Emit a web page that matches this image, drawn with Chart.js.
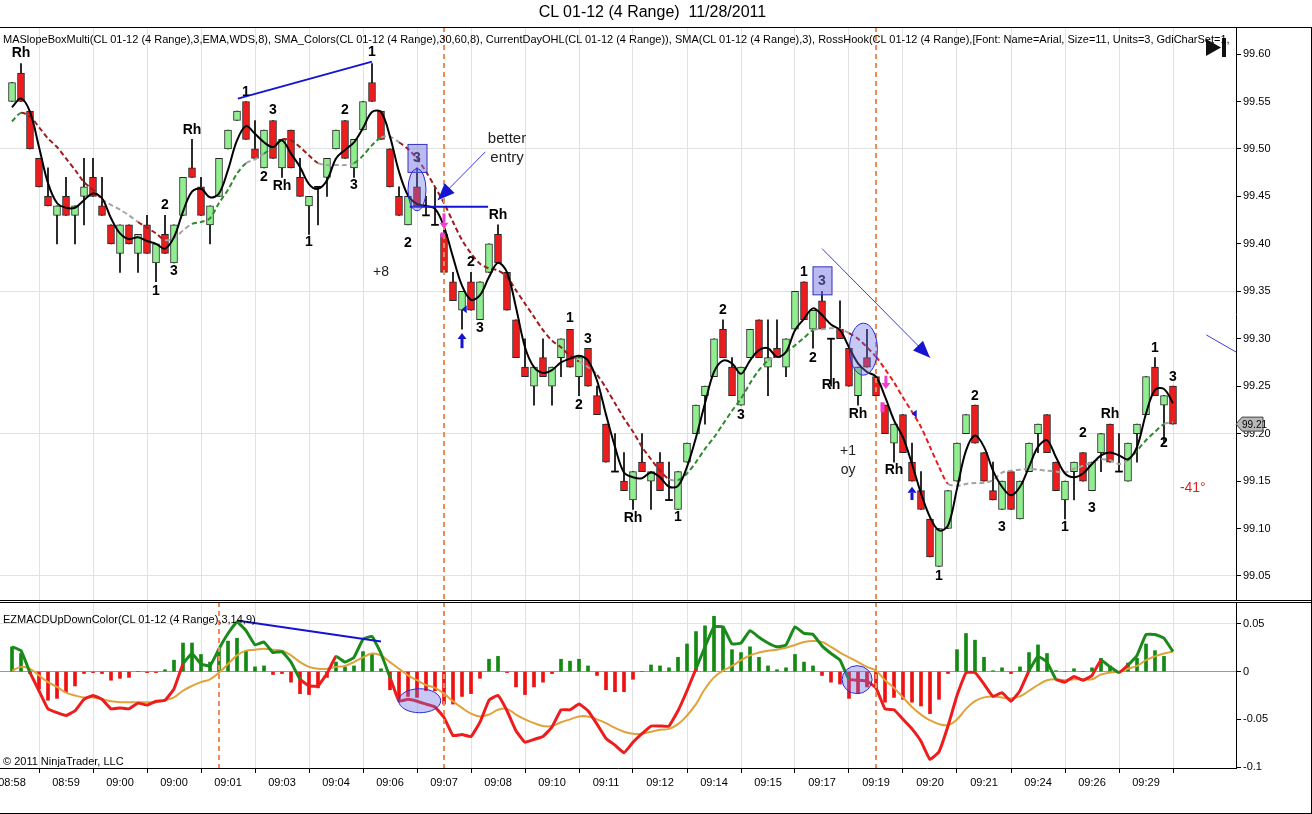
<!DOCTYPE html>
<html>
<head>
<meta charset="utf-8">
<script src="https://cdn.jsdelivr.net/npm/chart.js@4.4.1/dist/chart.umd.min.js"></script>
<style>
  body { margin: 0; background: #fff; font-family: "Liberation Sans", Arial, sans-serif; }
  #wrap { position: relative; width: 1312px; height: 814px; overflow: hidden; background: #fff; }
  #priceBox { position: absolute; left: 0; top: 0; width: 1312px; height: 601px; }
  #macdBox { position: absolute; left: 0; top: 601px; width: 1312px; height: 213px; }
  .txt { position: absolute; white-space: pre; color: #000; }
  #title { left: 0; top: 3px; width: 1305px; text-align: center; font-size: 16px; }
  #ind { left: 3px; top: 33px; width: 1230px; overflow: hidden; font-size: 11px; }
  #macdLbl { left: 3px; top: 613px; font-size: 11px; }
  #copy { left: 3px; top: 755px; font-size: 11px; }
  .hl { position: absolute; left: 0; width: 1312px; height: 1px; background: #000; }
  .vl { position: absolute; width: 1px; background: #000; }
</style>
</head>
<body>
<div id="wrap">
  <div id="priceBox"><canvas id="priceChart"></canvas></div>
  <div id="macdBox"><canvas id="macdChart"></canvas></div>
  <div class="hl" style="top:27px"></div>
  <div class="hl" style="top:600px"></div>
  <div class="hl" style="top:602px"></div>
  <div class="hl" style="top:813px"></div>
  <div class="vl" style="left:1311px;top:27px;height:787px"></div>
  <div class="txt" id="title">CL 01-12 (4 Range)  11/28/2011</div>
  <div class="txt" id="ind">MASlopeBoxMulti(CL 01-12 (4 Range),3,EMA,WDS,8), SMA_Colors(CL 01-12 (4 Range),30,60,8), CurrentDayOHL(CL 01-12 (4 Range)), SMA(CL 01-12 (4 Range),3), RossHook(CL 01-12 (4 Range),[Font: Name=Arial, Size=11, Units=3, GdiCharSet=1,</div>
  <div class="txt" id="macdLbl">EZMACDUpDownColor(CL 01-12 (4 Range),3,14,9)</div>
  <div class="txt" id="copy">© 2011 NinjaTrader, LLC</div>
</div>
<script>
// x axis time labels, one every 6 range bars
const timeLabels = ['08:58', '08:59', '09:00', '09:00', '09:01', '09:03', '09:04', '09:06', '09:07', '09:08', '09:10',
  '09:11', '09:12', '09:14', '09:15', '09:17', '09:19', '09:20', '09:21', '09:24', '09:26', '09:29'];
const labelEvery = 6;

const opens = [
  99.55, 99.58, 99.54, 99.49, 99.45, 99.43, 99.45, 99.43, 99.45, 99.47,
  99.44, 99.42, 99.39, 99.42, 99.39, 99.42, 99.38, 99.41, 99.38, 99.43,
  99.48, 99.46, 99.42, 99.45, 99.50, 99.53, 99.55, 99.50, 99.48, 99.53,
  99.48, 99.52, 99.47, 99.44, 99.46, 99.47, 99.50, 99.53, 99.48, 99.52,
  99.57, 99.54, 99.50, 99.45, 99.42, 99.46, 99.43, 99.42, 99.41, 99.36,
  99.33, 99.36, 99.32, 99.37, 99.41, 99.37, 99.32, 99.27, 99.25, 99.28,
  99.25, 99.28, 99.31, 99.26, 99.29, 99.24, 99.21, 99.16, 99.15, 99.13,
  99.17, 99.15, 99.17, 99.13, 99.12, 99.17, 99.20, 99.24, 99.26, 99.31,
  99.27, 99.23, 99.28, 99.32, 99.27, 99.29, 99.27, 99.31, 99.36, 99.31,
  99.34, 99.30, 99.31, 99.29, 99.24, 99.28, 99.26, 99.23, 99.19, 99.22,
  99.17, 99.14, 99.11, 99.06, 99.10, 99.15, 99.20, 99.23, 99.18, 99.14,
  99.12, 99.16, 99.11, 99.16, 99.20, 99.22, 99.17, 99.13, 99.16, 99.18,
  99.14, 99.18, 99.21, 99.16, 99.15, 99.20, 99.22, 99.27, 99.23, 99.25
];
const highs = [
  99.57, 99.59, 99.54, 99.49, 99.48, 99.44, 99.47, 99.44, 99.49, 99.49,
  99.47, 99.42, 99.42, 99.42, 99.41, 99.43, 99.40, 99.43, 99.42, 99.47,
  99.51, 99.47, 99.44, 99.49, 99.52, 99.54, 99.55, 99.53, 99.52, 99.53,
  99.51, 99.52, 99.49, 99.45, 99.46, 99.49, 99.52, 99.53, 99.51, 99.55,
  99.59, 99.54, 99.50, 99.46, 99.45, 99.48, 99.45, 99.46, 99.42, 99.37,
  99.35, 99.37, 99.36, 99.40, 99.42, 99.37, 99.32, 99.30, 99.27, 99.30,
  99.27, 99.30, 99.31, 99.28, 99.29, 99.25, 99.21, 99.20, 99.18, 99.16,
  99.20, 99.16, 99.18, 99.17, 99.16, 99.19, 99.23, 99.25, 99.30, 99.32,
  99.28, 99.27, 99.31, 99.32, 99.32, 99.32, 99.30, 99.35, 99.36, 99.33,
  99.35, 99.30, 99.34, 99.29, 99.27, 99.31, 99.26, 99.23, 99.21, 99.22,
  99.19, 99.16, 99.11, 99.10, 99.14, 99.19, 99.22, 99.23, 99.18, 99.17,
  99.15, 99.16, 99.15, 99.19, 99.21, 99.22, 99.17, 99.15, 99.17, 99.18,
  99.17, 99.20, 99.21, 99.20, 99.19, 99.21, 99.26, 99.28, 99.24, 99.25
];
const lows = [
  99.55, 99.55, 99.50, 99.46, 99.44, 99.40, 99.43, 99.40, 99.42, 99.45,
  99.43, 99.40, 99.37, 99.40, 99.37, 99.39, 99.36, 99.39, 99.38, 99.43,
  99.47, 99.43, 99.40, 99.45, 99.50, 99.53, 99.51, 99.49, 99.48, 99.49,
  99.47, 99.48, 99.45, 99.41, 99.42, 99.45, 99.50, 99.49, 99.47, 99.52,
  99.55, 99.51, 99.46, 99.43, 99.42, 99.44, 99.43, 99.42, 99.37, 99.34,
  99.31, 99.33, 99.32, 99.37, 99.38, 99.33, 99.28, 99.26, 99.23, 99.26,
  99.23, 99.26, 99.27, 99.24, 99.25, 99.22, 99.17, 99.16, 99.14, 99.12,
  99.16, 99.12, 99.14, 99.13, 99.12, 99.17, 99.20, 99.21, 99.26, 99.28,
  99.24, 99.23, 99.28, 99.28, 99.24, 99.28, 99.26, 99.31, 99.32, 99.29,
  99.31, 99.25, 99.30, 99.25, 99.23, 99.27, 99.24, 99.20, 99.17, 99.18,
  99.15, 99.12, 99.07, 99.06, 99.10, 99.15, 99.20, 99.19, 99.15, 99.13,
  99.12, 99.12, 99.11, 99.16, 99.18, 99.18, 99.14, 99.11, 99.13, 99.15,
  99.14, 99.16, 99.17, 99.16, 99.15, 99.17, 99.22, 99.24, 99.19, 99.21
];
const closes = [
  99.57, 99.55, 99.50, 99.46, 99.44, 99.44, 99.43, 99.44, 99.46, 99.45,
  99.43, 99.40, 99.42, 99.40, 99.41, 99.39, 99.40, 99.39, 99.42, 99.47,
  99.47, 99.43, 99.44, 99.49, 99.52, 99.54, 99.51, 99.49, 99.52, 99.49,
  99.51, 99.48, 99.45, 99.45, 99.46, 99.49, 99.52, 99.49, 99.51, 99.55,
  99.55, 99.51, 99.46, 99.43, 99.45, 99.44, 99.43, 99.42, 99.37, 99.34,
  99.35, 99.33, 99.36, 99.40, 99.38, 99.33, 99.28, 99.26, 99.27, 99.26,
  99.27, 99.30, 99.27, 99.28, 99.25, 99.22, 99.17, 99.16, 99.14, 99.16,
  99.16, 99.16, 99.14, 99.13, 99.16, 99.19, 99.23, 99.25, 99.30, 99.28,
  99.24, 99.27, 99.31, 99.28, 99.28, 99.28, 99.30, 99.35, 99.32, 99.33,
  99.31, 99.30, 99.30, 99.25, 99.27, 99.27, 99.24, 99.20, 99.21, 99.18,
  99.15, 99.12, 99.07, 99.10, 99.14, 99.19, 99.22, 99.19, 99.15, 99.13,
  99.15, 99.12, 99.15, 99.19, 99.21, 99.18, 99.14, 99.15, 99.17, 99.15,
  99.17, 99.20, 99.17, 99.16, 99.19, 99.21, 99.26, 99.24, 99.24, 99.21
];

// SMA(3), black solid line
const smaFast = [
  99.544, 99.553, 99.539, 99.502, 99.464, 99.443, 99.438, 99.438, 99.446, 99.453,
  99.448, 99.427, 99.411, 99.405, 99.407, 99.403, 99.400, 99.395, 99.407, 99.434,
  99.455, 99.458, 99.449, 99.453, 99.478, 99.509, 99.524, 99.516, 99.507, 99.502,
  99.509, 99.495, 99.481, 99.463, 99.458, 99.467, 99.490, 99.499, 99.507, 99.522,
  99.539, 99.539, 99.513, 99.476, 99.451, 99.442, 99.440, 99.437, 99.418, 99.386,
  99.356, 99.341, 99.346, 99.365, 99.380, 99.370, 99.333, 99.291, 99.270, 99.264,
  99.267, 99.275, 99.279, 99.282, 99.277, 99.256, 99.220, 99.186, 99.159, 99.154,
  99.153, 99.159, 99.154, 99.144, 99.145, 99.165, 99.196, 99.232, 99.265, 99.277,
  99.274, 99.263, 99.277, 99.288, 99.290, 99.281, 99.286, 99.309, 99.321, 99.332,
  99.325, 99.315, 99.309, 99.291, 99.274, 99.265, 99.260, 99.239, 99.214, 99.196,
  99.168, 99.137, 99.112, 99.098, 99.103, 99.142, 99.182, 99.198, 99.186, 99.161,
  99.144, 99.135, 99.144, 99.165, 99.186, 99.193, 99.175, 99.158, 99.154, 99.158,
  99.168, 99.177, 99.180, 99.177, 99.173, 99.186, 99.221, 99.246, 99.247, 99.232
];

// SMA_Colors, dashed line
const smaSlow = [
  99.529, 99.538, 99.534, 99.523, 99.511, 99.502, 99.490, 99.478, 99.465, 99.457,
  99.447, 99.441, 99.436, 99.430, 99.423, 99.417, 99.411, 99.404, 99.406, 99.414,
  99.421, 99.423, 99.427, 99.443, 99.457, 99.474, 99.485, 99.489, 99.495, 99.502,
  99.510, 99.509, 99.502, 99.493, 99.485, 99.483, 99.483, 99.483, 99.485, 99.493,
  99.504, 99.512, 99.513, 99.507, 99.500, 99.490, 99.476, 99.460, 99.443, 99.423,
  99.404, 99.390, 99.379, 99.374, 99.372, 99.365, 99.351, 99.337, 99.323, 99.309,
  99.298, 99.291, 99.282, 99.276, 99.270, 99.262, 99.248, 99.232, 99.216, 99.202,
  99.186, 99.173, 99.161, 99.152, 99.151, 99.158, 99.170, 99.184, 99.196, 99.210,
  99.224, 99.237, 99.253, 99.267, 99.277, 99.281, 99.286, 99.293, 99.301, 99.309,
  99.310, 99.311, 99.310, 99.306, 99.300, 99.291, 99.281, 99.268, 99.254, 99.238,
  99.223, 99.207, 99.186, 99.165, 99.147, 99.145, 99.147, 99.148, 99.148, 99.151,
  99.159, 99.161, 99.162, 99.163, 99.162, 99.161, 99.160, 99.159, 99.163, 99.166,
  99.170, 99.173, 99.172, 99.168, 99.172, 99.182, 99.193, 99.202, 99.210, 99.212
];
// colour of each dashed segment: u rising, d falling, D falling fast, f flat
const slowTrend = ['u', 'ddddddddd', 'ffff', 'ddd', 'fff', 'uuuuuu', 'ff', 'uu', 'dddd', 'ffff', 'uuu', 'ff',
  'dddddddddddddddddddd', 'ff', 'dddddddd', 'f', 'uuuuuuuuuu', 'ff', 'uuu', 'ffff', 'ddd', 'DDDDDDDD',
  'ffffffffffffffffffff', 'uuuu', 'f'].join('');

const macd = [
  0.026, 0.022, -0.001, -0.020, -0.039, -0.043, -0.046, -0.041, -0.029, -0.025,
  -0.029, -0.039, -0.038, -0.039, -0.033, -0.035, -0.031, -0.030, -0.018, 0.008,
  0.019, 0.008, 0.006, 0.024, 0.040, 0.052, 0.043, 0.028, 0.031, 0.020,
  0.021, 0.010, -0.008, -0.015, -0.015, -0.002, 0.016, 0.010, 0.015, 0.034,
  0.037, 0.019, -0.006, -0.031, -0.029, -0.031, -0.034, -0.037, -0.048, -0.067,
  -0.066, -0.068, -0.053, -0.030, -0.025, -0.041, -0.062, -0.074, -0.071, -0.068,
  -0.058, -0.040, -0.040, -0.034, -0.041, -0.055, -0.070, -0.077, -0.085, -0.074,
  -0.065, -0.057, -0.057, -0.057, -0.041, -0.020, 0.003, 0.026, 0.047, 0.047,
  0.029, 0.030, 0.043, 0.036, 0.030, 0.026, 0.028, 0.047, 0.040, 0.039,
  0.027, 0.019, 0.012, -0.008, -0.009, -0.010, -0.017, -0.039, -0.040, -0.050,
  -0.060, -0.073, -0.092, -0.084, -0.057, -0.025, -0.001, -0.001, -0.013, -0.026,
  -0.022, -0.031, -0.020, 0.001, 0.016, 0.010, -0.008, -0.011, -0.005, -0.009,
  -0.004, 0.012, 0.005, -0.001, 0.007, 0.017, 0.039, 0.039, 0.035, 0.021
];
const signal = [
  0.001, 0.005, 0.003, -0.004, -0.011, -0.016, -0.022, -0.025, -0.027, -0.027,
  -0.029, -0.031, -0.032, -0.032, -0.032, -0.032, -0.032, -0.030, -0.027, -0.020,
  -0.015, -0.011, -0.008, -0.001, 0.008, 0.017, 0.022, 0.023, 0.024, 0.023,
  0.022, 0.017, 0.010, 0.005, 0.003, 0.003, 0.005, 0.006, 0.010, 0.015,
  0.019, 0.017, 0.010, 0.003, -0.004, -0.009, -0.014, -0.017, -0.023, -0.031,
  -0.038, -0.044, -0.047, -0.045, -0.040, -0.039, -0.045, -0.050, -0.054, -0.057,
  -0.057, -0.053, -0.050, -0.047, -0.047, -0.050, -0.054, -0.059, -0.063, -0.065,
  -0.065, -0.063, -0.061, -0.060, -0.055, -0.046, -0.034, -0.018, -0.006, 0.001,
  0.006, 0.012, 0.017, 0.020, 0.022, 0.023, 0.025, 0.028, 0.031, 0.032,
  0.031, 0.026, 0.020, 0.015, 0.010, 0.005, 0.001, -0.009, -0.017, -0.027,
  -0.037, -0.045, -0.051, -0.055, -0.056, -0.050, -0.039, -0.031, -0.027, -0.026,
  -0.027, -0.028, -0.026, -0.020, -0.014, -0.009, -0.008, -0.009, -0.008, -0.008,
  -0.008, -0.003, -0.001, 0.000, 0.003, 0.006, 0.012, 0.016, 0.019, 0.021
];
const histogram = [
  0.026, 0.019, -0.002, -0.018, -0.030, -0.028, -0.022, -0.015, -0.002, -0.001,
  -0.002, -0.009, -0.007, -0.006, 0.000, -0.001, -0.001, 0.002, 0.012, 0.030,
  0.030, 0.018, 0.010, 0.023, 0.032, 0.035, 0.022, 0.005, 0.006, -0.003,
  -0.002, -0.011, -0.023, -0.024, -0.017, -0.006, 0.010, 0.005, 0.006, 0.021,
  0.019, 0.003, -0.019, -0.029, -0.026, -0.027, -0.020, -0.020, -0.034, -0.034,
  -0.026, -0.023, -0.007, 0.013, 0.016, -0.001, -0.016, -0.024, -0.016, -0.011,
  -0.002, 0.013, 0.011, 0.013, 0.006, -0.004, -0.019, -0.021, -0.021, -0.008,
  0.000, 0.007, 0.006, 0.004, 0.015, 0.029, 0.042, 0.048, 0.058, 0.047,
  0.023, 0.020, 0.026, 0.015, 0.006, 0.002, 0.004, 0.018, 0.010, 0.006,
  -0.004, -0.011, -0.013, -0.028, -0.023, -0.016, -0.017, -0.032, -0.027, -0.029,
  -0.032, -0.036, -0.044, -0.029, -0.002, 0.023, 0.040, 0.033, 0.015, 0.001,
  0.004, -0.002, 0.005, 0.020, 0.028, 0.019, 0.001, 0.000, 0.003, 0.000,
  0.004, 0.014, 0.006, 0.000, 0.009, 0.014, 0.029, 0.022, 0.016, null
];

// RossHook swing labels
const markBars = [1, 16, 17, 18, 20, 26, 28, 29, 30, 33, 37, 38, 40, 44, 51, 52, 54, 62, 63, 64,
  69, 74, 79, 81, 88, 89, 91, 94, 98, 103, 107, 110, 117, 119, 120, 122, 127, 128, 129];
const markPrices = [99.601, 99.350, 99.441, 99.371, 99.520, 99.560, 99.470, 99.541, 99.461, 99.402,
  99.541, 99.462, 99.602, 99.401, 99.381, 99.311, 99.430, 99.322, 99.230, 99.300,
  99.111, 99.112, 99.330, 99.219, 99.370, 99.280, 99.251, 99.221, 99.161, 99.050,
  99.240, 99.101, 99.101, 99.200, 99.121, 99.221, 99.290, 99.190, 99.260];
const markTexts = ['Rh', '1', '2', '3', 'Rh', '1', '2', '3', 'Rh', '1', '2', '3', '1', '2', '2', '3', 'Rh', '1', '2', '3',
  'Rh', '1', '2', '3', '1', '2', 'Rh', 'Rh', 'Rh', '1', '2', '3', '1', '2', '3', 'Rh', '1', '2', '3'];
const boxBars = [45, 90];
const boxPrices = [99.490, 99.361];

// hand-drawn notes
const noteBars = [55, 55, 41, 92.9, 92.9, 131.2];
const notePrices = [99.511, 99.491, 99.370, 99.182, 99.161, 99.143];
const noteTexts = ['better', 'entry', '+8', '+1', 'oy', '-41°'];

const mainSessionBars = [48, 96];
const macdSessionBars = [23, 48, 96];

const COLORS = {
  up: '#90ee90',
  down: '#ee1c1c',
  wick: '#000',
  grid: '#e2e2e2',
  blue: '#1414d2',
  pink: '#f03cd0',
  session: '#f08a5a',
  macdUp: '#1a8a1a',
  macdDown: '#ee1c1c',
  signal: '#dfa33a',
  trend: { u: '#2e8b2e', d: '#a01c1c', D: '#e81c1c', f: '#a3a3a3' }
};

Chart.defaults.font.family = '"Liberation Sans", Arial, sans-serif';
Chart.defaults.color = '#000';

const bars = closes.map((_, i) => i);
const xMin = -12 / 9;
const xMax = 136;

function candleColor(i) {
  if (closes[i] > opens[i]) return COLORS.up;
  if (closes[i] < opens[i]) return COLORS.down;
  return '#000';
}

function timeTicks(scale) {
  scale.ticks = timeLabels.map((_, k) => ({ value: k * labelEvery }));
}

function fixedWidth(scale) {
  scale.width = 76;
  scale.paddingTop = 0;
  scale.paddingBottom = 0;
}

function ellipse(ctx, cx, cy, rx, ry) {
  ctx.beginPath();
  ctx.ellipse(cx, cy, rx, ry, 0, 0, Math.PI * 2);
  ctx.fillStyle = 'rgba(110,110,230,0.38)';
  ctx.fill();
  ctx.strokeStyle = '#2a2ad8';
  ctx.lineWidth = 1;
  ctx.stroke();
}

function line(ctx, x1, y1, x2, y2, color, width) {
  ctx.beginPath();
  ctx.moveTo(x1, y1);
  ctx.lineTo(x2, y2);
  ctx.strokeStyle = color;
  ctx.lineWidth = width;
  ctx.stroke();
}

function arrowHead(ctx, x1, y1, x2, y2, len, half, color) {
  const a = Math.atan2(y2 - y1, x2 - x1);
  ctx.beginPath();
  ctx.moveTo(x2, y2);
  ctx.lineTo(x2 - len * Math.cos(a) + half * Math.sin(a), y2 - len * Math.sin(a) - half * Math.cos(a));
  ctx.lineTo(x2 - len * Math.cos(a) - half * Math.sin(a), y2 - len * Math.sin(a) + half * Math.cos(a));
  ctx.closePath();
  ctx.fillStyle = color;
  ctx.fill();
}

// small vertical block arrow pointing from yTail to yTip
function blockArrow(ctx, x, yTail, yTip, color) {
  const dir = yTip > yTail ? 1 : -1;
  const headLen = 6 * dir;
  ctx.fillStyle = color;
  ctx.fillRect(x - 1.5, Math.min(yTail, yTip - headLen), 3, Math.abs(yTip - headLen - yTail));
  ctx.beginPath();
  ctx.moveTo(x - 4.5, yTip - headLen);
  ctx.lineTo(x + 4.5, yTip - headLen);
  ctx.lineTo(x, yTip);
  ctx.closePath();
  ctx.fill();
}

function sessionLines(chart, list) {
  const { ctx, scales: { x }, chartArea } = chart;
  ctx.save();
  ctx.setLineDash([5, 4]);
  list.forEach(b => {
    const px = x.getPixelForValue(b);
    line(ctx, px, chartArea.top, px, chartArea.bottom, COLORS.session, 2);
  });
  ctx.restore();
}

const priceNotes = {
  id: 'priceNotes',
  afterDatasetsDraw(chart) {
    const { ctx, scales: { x, y } } = chart;
    const P = (i, v) => [x.getPixelForValue(i), y.getPixelForValue(v)];
    sessionLines(chart, mainSessionBars);
    ctx.save();

    // trend lines and arrows
    let a = P(25.1, 99.553), b = P(40, 99.592);
    line(ctx, a[0], a[1], b[0], b[1], COLORS.blue, 2);
    a = P(44.2, 99.439); b = P(52.9, 99.439);
    line(ctx, a[0], a[1], b[0], b[1], COLORS.blue, 2);
    a = P(52.6, 99.497); b = P(47.3, 99.446);
    line(ctx, a[0], a[1], b[0], b[1], '#3a3ae0', 1);
    arrowHead(ctx, a[0], a[1], b[0], b[1], 17, 7, COLORS.blue);
    a = P(90, 99.395); b = P(102, 99.280);
    line(ctx, a[0], a[1], b[0], b[1], '#3a3ae0', 1);
    arrowHead(ctx, a[0], a[1], b[0], b[1], 17, 7, COLORS.blue);
    a = P(132.7, 99.304); b = P(136, 99.286);
    line(ctx, a[0], a[1], b[0], b[1], '#3a3ae0', 1);

    // swing labels
    ctx.font = 'bold 14px "Liberation Sans", Arial';
    ctx.textAlign = 'center';
    ctx.textBaseline = 'middle';
    ctx.fillStyle = '#000';
    markBars.forEach((bar, k) => {
      const p = P(bar, markPrices[k]);
      ctx.fillText(markTexts[k], p[0], p[1]);
    });
    boxBars.forEach((bar, k) => {
      const p = P(bar, boxPrices[k]);
      ctx.fillStyle = '#000';
      ctx.fillText('3', p[0], p[1]);
      ctx.fillStyle = 'rgba(120,120,230,0.5)';
      ctx.fillRect(p[0] - 9, p[1] - 14, 19, 28);
      ctx.strokeStyle = '#3030c0';
      ctx.lineWidth = 1;
      ctx.strokeRect(p[0] - 9, p[1] - 14, 19, 28);
    });

    // circled entries
    let c = P(45, 99.457);
    ellipse(ctx, c[0], c[1], 9, 21);
    c = P(94.6, 99.289);
    ellipse(ctx, c[0], c[1], 14, 26);

    // signal arrows
    a = P(48, 99.432); b = P(48, 99.416);
    blockArrow(ctx, a[0], a[1], b[1], COLORS.pink);
    a = P(97.1, 99.261); b = P(97.1, 99.247);
    blockArrow(ctx, a[0], a[1], b[1], COLORS.pink);
    ctx.fillStyle = COLORS.pink;
    a = P(47.6, 99.412); ctx.fillRect(a[0], a[1], 4, 5);
    a = P(96.5, 99.233); ctx.fillRect(a[0], a[1], 4, 10);
    a = P(50, 99.290); b = P(50, 99.306);
    blockArrow(ctx, a[0], a[1], b[1], COLORS.blue);
    a = P(100, 99.130); b = P(100, 99.144);
    blockArrow(ctx, a[0], a[1], b[1], COLORS.blue);
    [[50.3, 99.331], [100.3, 99.221]].forEach(([i, v]) => {
      const p = P(i, v);
      ctx.beginPath();
      ctx.moveTo(p[0] - 3, p[1]);
      ctx.lineTo(p[0] + 2, p[1] - 4);
      ctx.lineTo(p[0] + 2, p[1] + 4);
      ctx.closePath();
      ctx.fillStyle = COLORS.blue;
      ctx.fill();
    });

    // notes
    noteTexts.forEach((t, k) => {
      const p = P(noteBars[k], notePrices[k]);
      ctx.fillStyle = t.startsWith('-') ? '#e02020' : '#222';
      ctx.font = k < 2 ? '15px "Liberation Sans", Arial' : '14px "Liberation Sans", Arial';
      ctx.fillText(t, p[0], p[1]);
    });
    ctx.restore();
  },
  afterDraw(chart) {
    const { ctx, scales: { y }, chartArea } = chart;
    ctx.save();
    // last price marker
    const last = closes[closes.length - 1];
    const py = y.getPixelForValue(last);
    const r = chartArea.right;
    ctx.beginPath();
    ctx.moveTo(r, py);
    ctx.lineTo(r + 6, py - 7);
    ctx.lineTo(r + 27, py - 7);
    ctx.lineTo(r + 27, py + 7);
    ctx.lineTo(r + 6, py + 7);
    ctx.closePath();
    ctx.fillStyle = '#b8b8b8';
    ctx.fill();
    ctx.strokeStyle = '#444';
    ctx.lineWidth = 1;
    ctx.stroke();
    ctx.fillStyle = '#000';
    ctx.font = '10px "Liberation Sans", Arial';
    ctx.textBaseline = 'middle';
    ctx.fillText(last.toFixed(2), r + 6, py + 1);
    // scroll-to-end button
    ctx.beginPath();
    ctx.moveTo(1206, 39);
    ctx.lineTo(1221, 47.5);
    ctx.lineTo(1206, 56);
    ctx.closePath();
    ctx.fillStyle = '#111';
    ctx.fill();
    ctx.fillRect(1222, 38, 4, 19);
    ctx.restore();
  }
};

const macdNotes = {
  id: 'macdNotes',
  afterDatasetsDraw(chart) {
    const { ctx, scales: { x, y } } = chart;
    const P = (i, v) => [x.getPixelForValue(i), y.getPixelForValue(v)];
    sessionLines(chart, macdSessionBars);
    ctx.save();
    const a = P(25, 0.0537), b = P(41, 0.0316);
    line(ctx, a[0], a[1], b[0], b[1], COLORS.blue, 2);
    let c = P(45.3, -0.0305);
    ellipse(ctx, c[0], c[1], 21, 12);
    c = P(93.9, -0.0084);
    ellipse(ctx, c[0], c[1], 15, 14);
    ctx.restore();
  }
};

new Chart(document.getElementById('priceChart'), {
  type: 'bar',
  data: {
    datasets: [
      {
        type: 'line',
        label: 'SMA(3)',
        data: bars.map(i => ({ x: i, y: smaFast[i] })),
        borderColor: '#000',
        borderWidth: 2,
        pointRadius: 0,
        tension: 0.35,
        order: 0
      },
      {
        type: 'line',
        label: 'SMA_Colors',
        data: bars.map(i => ({ x: i, y: smaSlow[i] })),
        borderWidth: 2,
        borderDash: [5, 3],
        segment: { borderColor: ctx => COLORS.trend[slowTrend[ctx.p0DataIndex]] },
        pointRadius: 0,
        tension: 0.3,
        order: 1
      },
      {
        label: 'body',
        data: bars.map(i => {
          const o = opens[i], c = closes[i];
          return { x: i, y: o === c ? [o - 0.0006, o + 0.0006] : [o, c] };
        }),
        backgroundColor: bars.map(candleColor),
        borderColor: '#262626',
        borderWidth: bars.map(i => (opens[i] === closes[i] ? 0 : 1)),
        borderSkipped: false,
        barThickness: 7,
        grouped: false,
        order: 2
      },
      {
        label: 'wick',
        data: bars.map(i => ({ x: i, y: [lows[i], highs[i]] })),
        backgroundColor: COLORS.wick,
        barThickness: 1,
        grouped: false,
        order: 3
      }
    ]
  },
  options: {
    responsive: true,
    maintainAspectRatio: false,
    animation: false,
    layout: { padding: { top: 27, left: 0, right: 0, bottom: 0 } },
    plugins: { legend: { display: false }, tooltip: { enabled: false } },
    scales: {
      x: {
        type: 'linear',
        min: xMin,
        max: xMax,
        offset: false,
        afterBuildTicks: timeTicks,
        afterFit(scale) {
          scale.height = 0;
          scale.paddingLeft = 0;
          scale.paddingRight = 0;
        },
        ticks: { display: false },
        grid: { color: COLORS.grid, drawTicks: false },
        border: { display: false }
      },
      y: {
        position: 'right',
        min: 99.0236,
        max: 99.6285,
        afterBuildTicks(scale) {
          scale.ticks = [99.05, 99.10, 99.15, 99.20, 99.25, 99.30, 99.35, 99.40, 99.45, 99.50, 99.55, 99.60]
            .map(value => ({ value }));
        },
        afterFit: fixedWidth,
        ticks: { font: { size: 11 }, padding: 2, callback: v => v.toFixed(2) },
        grid: {
          color: ctx => ([99.05, 99.2, 99.35, 99.5].some(g => Math.abs(g - ctx.tick.value) < 1e-6) ? COLORS.grid : 'rgba(0,0,0,0)'),
          tickColor: '#000',
          tickLength: 5
        },
        border: { color: '#000' }
      }
    }
  },
  plugins: [priceNotes]
});

new Chart(document.getElementById('macdChart'), {
  type: 'bar',
  data: {
    datasets: [
      {
        type: 'line',
        label: 'MACD',
        data: bars.map(i => ({ x: i, y: macd[i] })),
        borderWidth: 3,
        segment: { borderColor: ctx => (ctx.p0.parsed.y >= 0 ? COLORS.macdUp : COLORS.macdDown) },
        pointRadius: 0,
        tension: 0.1,
        order: 0
      },
      {
        type: 'line',
        label: 'Avg',
        data: bars.map(i => ({ x: i, y: signal[i] })),
        borderColor: COLORS.signal,
        borderWidth: 2,
        pointRadius: 0,
        tension: 0.4,
        order: 1
      },
      {
        label: 'Diff',
        data: bars.filter(i => histogram[i] != null).map(i => ({ x: i, y: histogram[i] })),
        backgroundColor: bars.filter(i => histogram[i] != null).map(i => (histogram[i] >= 0 ? '#138a13' : '#ee1111')),
        barThickness: 3,
        grouped: false,
        order: 2
      }
    ]
  },
  options: {
    responsive: true,
    maintainAspectRatio: false,
    animation: false,
    layout: { padding: { top: 1, left: 0, right: 0, bottom: 0 } },
    plugins: { legend: { display: false }, tooltip: { enabled: false } },
    scales: {
      x: {
        type: 'linear',
        min: xMin,
        max: xMax,
        offset: false,
        afterBuildTicks: timeTicks,
        afterFit(scale) {
          scale.height = 46;
          scale.paddingLeft = 0;
          scale.paddingRight = 0;
        },
        ticks: {
          font: { size: 11 },
          padding: 3,
          maxRotation: 0,
          autoSkip: false,
          callback: (value, index) => timeLabels[index]
        },
        grid: { color: COLORS.grid, tickColor: '#000', tickLength: 5 },
        border: { color: '#000' }
      },
      y: {
        position: 'right',
        min: -0.101,
        max: 0.073,
        afterBuildTicks(scale) {
          scale.ticks = [-0.1, -0.05, 0, 0.05].map(value => ({ value }));
        },
        afterFit: fixedWidth,
        ticks: { font: { size: 11 }, padding: 2, callback: v => String(v) },
        grid: {
          color: ctx => (ctx.tick.value === 0 ? '#9a9a9a' : ctx.tick.value === 0.05 ? COLORS.grid : 'rgba(0,0,0,0)'),
          tickColor: '#000',
          tickLength: 5
        },
        border: { color: '#000' }
      }
    }
  },
  plugins: [macdNotes]
});
</script>
</body>
</html>
